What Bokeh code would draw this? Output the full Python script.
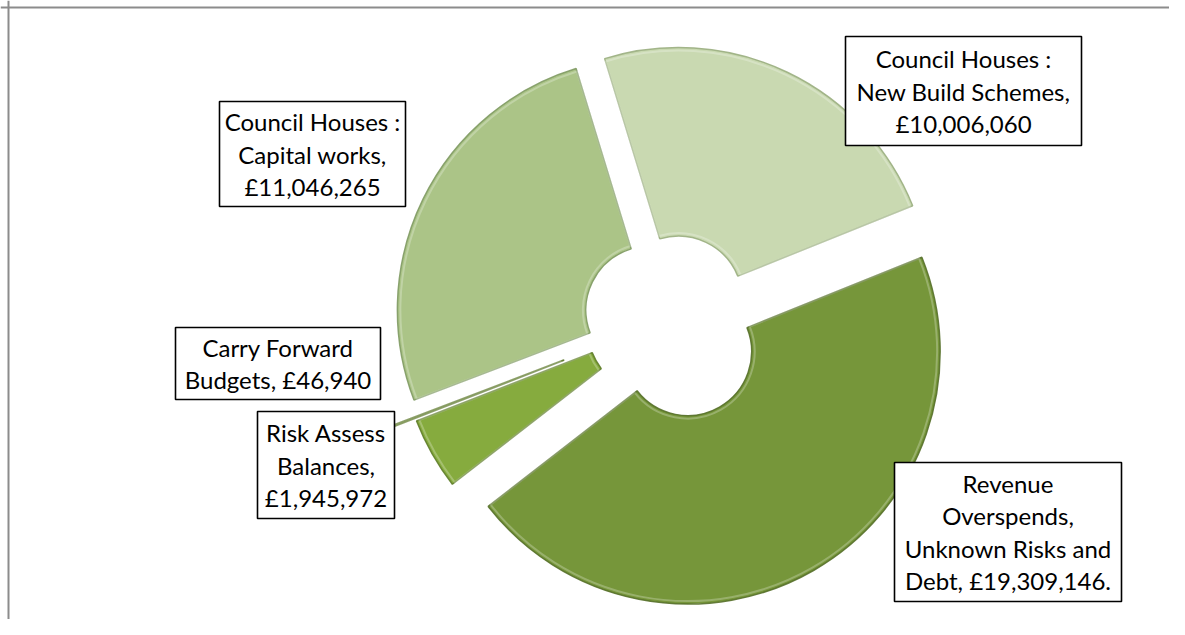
import math
from bokeh.plotting import figure
from bokeh.models import Range1d, ColumnDataSource, Span
from bokeh.embed import file_html
from bokeh.resources import INLINE
from bokeh.core.properties import value

# ---- data ----
categories = [
    "Council Houses : New Build Schemes",
    "Revenue Overspends, Unknown Risks and Debt",
    "Risk Assess Balances",
    "Carry Forward Budgets",
    "Council Houses : Capital works",
]
amounts = [10006060, 19309146, 1945972, 46940, 11046265]
label_lines = [
    ["Council Houses :", "New Build Schemes,", "£10,006,060"],
    ["Revenue", "Overspends,", "Unknown Risks and", "Debt, £19,309,146."],
    ["Risk Assess", "Balances,", "£1,945,972"],
    ["Carry Forward", "Budgets, £46,940"],
    ["Council Houses :", "Capital works,", "£11,046,265"],
]

# ---- styles / layout ----
fill_colors = ["#c9d9b1", "#76963a", "#86ab3e", "#6f8f35", "#abc487"]
edge_colors = ["#9aae80", "#56702a", "#5f7d2a", "#5a7628", "#7f9a63"]
explode = [21.5, 37, 20, 49, 21.5]          # px offsets
first_angle = 343.0                          # degrees clockwise from 12 o'clock
W, H = 1169, 619
def py(y):  # page y (from top) -> data y
    return 635 - y
center = (668.7, py(319))
R_out, R_in = 252.5, 64
# label boxes in page coords: (left, top, right, bottom)
boxes = [
    (845, 36, 1081, 145),
    (894, 462, 1121, 601),
    (257, 411, 394, 518),
    (175, 327, 380, 399),
    (219, 101, 405, 206),
]
pitch = 32.5

p = figure(width=W, height=H, output_backend="svg", toolbar_location=None,
           x_range=Range1d(0, W), y_range=Range1d(py(H), py(0)),
           min_border=0, match_aspect=False)
p.axis.visible = False
p.grid.visible = False
p.outline_line_color = None
p.background_fill_color = "white"
p.border_fill_color = "white"
p.add_layout(Span(location=8, dimension="height", line_color="#8c8c8c", line_width=2))
p.add_layout(Span(location=py(7), dimension="width", line_color="#8c8c8c", line_width=2))

total = float(sum(amounts))
xs, ys, sa, ea = [], [], [], []
cum = 0.0
for a, e in zip(amounts, explode):
    t1 = first_angle + cum / total * 360.0
    t2 = t1 + a / total * 360.0
    tm = math.radians((t1 + t2) / 2)
    xs.append(center[0] + e * math.sin(tm))
    ys.append(center[1] + e * math.cos(tm))
    sa.append(math.radians(90 - t2))
    ea.append(math.radians(90 - t1))
    cum += a

src = ColumnDataSource(dict(x=xs, y=ys, sa=sa, ea=ea, fill=fill_colors,
                            edge=edge_colors, name=categories, val=amounts))
p.annular_wedge(x="x", y="y", inner_radius=R_in, outer_radius=R_out,
                start_angle="sa", end_angle="ea", fill_color="fill",
                line_color="edge", line_width=1.5, line_alpha=0.9, source=src)
# soft highlight to hint at bevel
p.annular_wedge(x="x", y="y", inner_radius=R_in + 3, outer_radius=R_out - 3,
                start_angle="sa", end_angle="ea", fill_alpha=0,
                line_color="white", line_alpha=0.25, line_width=2, source=src)

# label boxes and text
bl, bt, br, bb = zip(*boxes)
p.quad(left=list(bl), right=list(br), top=[py(v) for v in bt], bottom=[py(v) for v in bb],
       fill_color="white", line_color="black", line_width=1.6)

tx, ty, tt = [], [], []
for lines, (l, t, r, b) in zip(label_lines, boxes):
    cx = (l + r) / 2
    cy = (t + b) / 2
    n = len(lines)
    for i, s in enumerate(lines):
        tx.append(cx)
        ty.append(py(cy + (i - (n - 1) / 2) * pitch))
        tt.append(s)
p.text(x=tx, y=ty, text=tt, text_font=value("Lato"), text_font_size="24px",
       text_align="center", text_baseline="middle", text_color="black")

open("out.html", "w").write(file_html(p, INLINE))
